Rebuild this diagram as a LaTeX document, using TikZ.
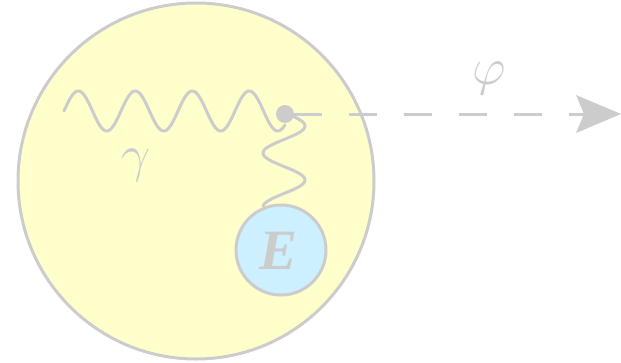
\RequirePackage{fix-cm}
\documentclass[tikz,border=0pt]{standalone}
\usepackage{fontspec}
\newfontfamily\efont{Liberation Serif}
\usetikzlibrary{arrows.meta}
\definecolor{lgray}{RGB}{204,204,204}
\definecolor{lyellow}{RGB}{255,255,204}
\definecolor{lcyan}{RGB}{204,240,255}
\begin{document}
\begin{tikzpicture}[x=1pt,y=-1pt,
  wline/.style={draw=lgray,line width=3pt},
  lbl/.style={text=lgray,font=\fontsize{52}{56}\selectfont,inner sep=0pt}]
\useasboundingbox (0,0) rectangle (621,362);
\node[circle,draw=lgray,fill=lyellow,line width=3pt,minimum size=356pt,inner sep=0pt] (big) at (196,181) {};
\node[circle,draw=lgray,fill=lcyan,line width=3pt,minimum size=90pt,inner sep=0pt] (e) at (281,250) {};
\node[lbl,font=\efont\fontsize{57}{60}\selectfont\bfseries\itshape] (elbl) at (279,251) {E};
\draw[wline,line cap=round] plot[domain=0:221,samples=200,smooth] ({64+\x},{111-20*sin(\x/57*360)});
\draw[wline,line cap=round] plot[domain=114:206,samples=120,smooth] ({284+21*cos((\x-126)/27*180)},\x);
\node[circle,fill=lgray,minimum size=18pt,inner sep=0pt] (dot) at (285,114) {};
\coordinate (tip) at (621,114);
\draw[draw=lgray,line width=3pt,dash pattern=on 28pt off 27pt,
  -{Stealth[length=45pt,width=38pt,inset=8pt,line width=0pt,fill=lgray]}] (dot) -- (tip);
\node[lbl] (gamma) at (136,165) {$\gamma$};
\node[lbl] (phi) at (489,78) {$\varphi$};
\end{tikzpicture}
\end{document}
